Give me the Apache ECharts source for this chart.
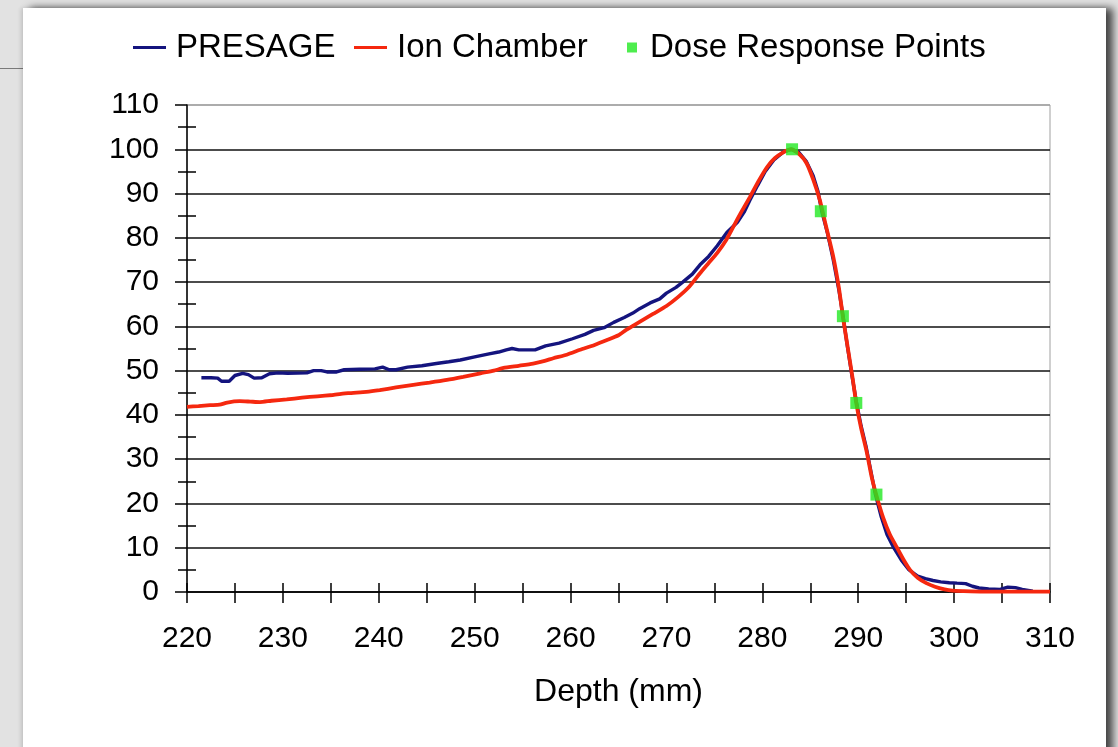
<!DOCTYPE html>
<html>
<head>
<meta charset="utf-8">
<script src="https://cdn.jsdelivr.net/npm/echarts@6/dist/echarts.min.js"></script>
<style>
  html, body { margin: 0; padding: 0; width: 1118px; height: 747px; overflow: hidden; background: #e2e2e2; }
  #bgline { position: absolute; left: 0; top: 68px; width: 23px; height: 1px; background: #7a7a7a; }
  #card { position: absolute; left: 23px; top: 8px; width: 1083px; height: 800px; background: #fff;
          box-shadow: 7px 0 8px rgba(0,0,0,0.7), -2px 0 4px rgba(0,0,0,0.12); }
  #chart { position: absolute; left: 0; top: 0; width: 1118px; height: 747px; }
</style>
</head>
<body>
<div id="bgline"></div>
<div id="card"></div>
<div id="chart"></div>
<script>
// ---- data ----
const xTicks = [220, 230, 240, 250, 260, 270, 280, 290, 300, 310];
const yTicks = [0, 10, 20, 30, 40, 50, 60, 70, 80, 90, 100, 110];

const presageDepth = [221.5,222.5,223.2,223.6,224.4,225.0,225.8,226.4,227.0,227.8,228.6,229.5,230.5,232.5,233.2,234.0,234.6,235.6,236.4,238.0,239.6,240.4,241.1,241.8,243.0,244.5,246.0,247.3,248.5,250.0,251.5,252.5,253.3,253.9,254.6,256.3,257.4,258.8,260.2,261.5,262.4,263.5,264.5,265.6,266.5,267.2,268.3,269.3,270.0,271.0,271.7,272.7,273.5,274.4,275.3,276.3,277.4,278.1,278.7,279.5,280.3,281.2,282.2,283.0,283.8,284.6,285.3,285.8,286.2,286.8,287.4,288.0,288.4,288.8,289.3,289.8,290.3,290.8,291.3,291.8,292.4,293.0,293.7,294.5,295.3,296.2,297.0,297.8,298.6,299.5,300.3,301.2,301.9,302.6,303.6,304.8,305.6,306.4,307.1,308.2];
const presageDose  = [48.4,48.4,48.3,47.6,47.6,48.9,49.4,49.1,48.3,48.4,49.3,49.5,49.4,49.5,50.0,50.0,49.7,49.7,50.2,50.3,50.4,50.8,50.2,50.2,50.8,51.1,51.6,52.0,52.4,53.1,53.8,54.2,54.7,55.0,54.7,54.7,55.6,56.2,57.2,58.2,59.1,59.7,60.9,62.0,63.0,64.0,65.3,66.2,67.5,68.8,70.0,71.8,73.9,75.8,78.2,81.2,83.5,85.8,88.5,91.8,95.0,97.6,99.4,100,99.3,97.2,94.0,90.5,86.0,81.0,75.0,68.0,62.5,56.5,49.5,43.0,37.5,33.0,27.5,22.0,17.0,13.0,10.0,7.2,5.0,3.6,3.0,2.6,2.3,2.1,2.0,1.9,1.3,0.9,0.7,0.6,1.1,1.0,0.6,0.2];

const ionDepth = [220.0,221.2,222.4,223.4,224.2,225.5,226.6,227.6,228.8,230.4,232.0,233.6,235.2,236.8,238.7,240.1,241.8,243.6,245.3,247.1,248.8,250.6,252.0,253.0,254.6,256.1,257.3,258.2,259.6,261.0,262.5,263.8,265.0,265.8,267.2,268.6,270.0,271.2,272.4,273.5,274.4,275.3,276.2,277.0,277.8,278.7,279.6,280.5,281.3,282.1,283.0,283.9,284.6,285.3,286.0,286.6,287.4,288.0,288.4,288.9,289.4,289.8,290.3,290.9,291.4,291.9,292.6,293.3,294.0,294.7,295.4,296.2,297.1,298.0,299.0,299.8,301.0,303.0,305.0,307.0,310.0];
const ionDose  = [41.8,42.0,42.2,42.3,42.8,43.1,43.0,42.9,43.2,43.5,43.9,44.2,44.5,44.9,45.2,45.6,46.2,46.8,47.3,47.9,48.6,49.4,50.0,50.6,51.1,51.6,52.2,52.8,53.6,54.7,55.8,56.9,58.0,59.2,61.0,62.8,64.6,66.6,69.0,72.0,74.3,76.6,79.4,82.6,85.8,89.2,92.8,96.0,98.0,99.2,100,98.8,96.9,93.2,88.5,83.0,75.7,68.5,62.2,55.3,48.5,42.6,37.0,31.5,26.0,21.8,16.8,13.0,10.2,7.4,5.0,3.2,2.0,1.2,0.6,0.3,0.2,0.1,0.1,0.1,0.1];

const pointDepth = [283.1, 286.1, 288.4, 289.8, 291.9];
const pointDose  = [100, 86, 62.3, 42.7, 22];

const seriesNames = ['PRESAGE', 'Ion Chamber', 'Dose Response Points'];
const xTitle = 'Depth (mm)';

// ---- build ----
const zip = (a, b) => a.map((v, i) => [v, b[i]]);
const FONT = '"Liberation Sans", Arial, sans-serif';
const NAVY = '#14147e', RED = '#f5280f', GREEN = '#22e822';

const chart = echarts.init(document.getElementById('chart'), null, { renderer: 'canvas' });

const xMin = xTicks[0], xMax = xTicks[xTicks.length - 1], xInt = xTicks[1] - xTicks[0];
const yMin = yTicks[0], yMax = yTicks[yTicks.length - 1], yInt = yTicks[1] - yTicks[0];

const ySplitColors = yTicks.map((v, i) => i === yTicks.length - 1 ? '#a0a0a0' : '#111');

const legendText = { fontSize: 33, color: '#000', fontFamily: FONT, padding: [0, 0, 0, 5] };

chart.setOption({
  backgroundColor: 'transparent',
  animation: false,
  legend: [
    { data: [{ name: seriesNames[0], icon: 'rect' }], left: 128, top: 26, itemWidth: 33, itemHeight: 3, textStyle: legendText },
    { data: [{ name: seriesNames[1], icon: 'rect' }], left: 349, top: 26, itemWidth: 33, itemHeight: 3, textStyle: legendText },
    { data: [{ name: seriesNames[2], icon: 'rect' }], left: 622, top: 26, itemWidth: 10, itemHeight: 10, textStyle: Object.assign({}, legendText, { padding: [0, 0, 0, 8] }) }
  ],
  grid: { left: 187, right: 68, top: 105, bottom: 155, show: true, borderColor: '#a0a0a0', borderWidth: 1, backgroundColor: 'transparent' },
  xAxis: [
    {
      type: 'value', min: xMin, max: xMax, interval: xInt, position: 'bottom',
      name: xTitle, nameLocation: 'middle', nameGap: 84,
      nameTextStyle: { fontSize: 32, color: '#000', fontFamily: FONT },
      axisLine: { show: true, lineStyle: { color: '#000', width: 1.5 } },
      axisTick: { show: true, length: 11, lineStyle: { color: '#000', width: 1.5 } },
      minorTick: { show: true, splitNumber: 2, length: 11, lineStyle: { color: '#000', width: 1.5 } },
      axisLabel: { fontSize: 30, color: '#000', fontFamily: FONT, margin: 32 },
      splitLine: { show: false }
    },
    {
      type: 'value', min: xMin, max: xMax, interval: xInt, position: 'bottom',
      axisLine: { show: false },
      axisTick: { show: true, inside: true, length: 9, lineStyle: { color: '#000', width: 1.5 } },
      minorTick: { show: true, splitNumber: 2, length: 9, lineStyle: { color: '#000', width: 1.5 } },
      axisLabel: { show: false },
      splitLine: { show: false }
    }
  ],
  yAxis: [
    {
      type: 'value', min: yMin, max: yMax, interval: yInt, position: 'left',
      axisLine: { show: true, lineStyle: { color: '#000', width: 1.5 } },
      axisTick: { show: true, length: 12, lineStyle: { color: '#000', width: 1.5 } },
      minorTick: { show: true, splitNumber: 2, length: 9, lineStyle: { color: '#000', width: 1.5 } },
      axisLabel: { fontSize: 30, color: '#000', fontFamily: FONT, margin: 28 },
      splitLine: { show: true, lineStyle: { color: ySplitColors, width: 1.6 } }
    },
    {
      type: 'value', min: yMin, max: yMax, interval: yInt, position: 'left',
      axisLine: { show: false },
      axisTick: { show: false, inside: true },
      minorTick: { show: true, splitNumber: 2, length: 9, lineStyle: { color: '#000', width: 1.5 } },
      axisLabel: { show: false },
      splitLine: { show: false }
    }
  ],
  series: [
    {
      name: seriesNames[0], type: 'line', data: zip(presageDepth, presageDose),
      showSymbol: false, symbol: 'none',
      lineStyle: { color: NAVY, width: 3.4 }, itemStyle: { color: NAVY }, z: 3
    },
    {
      name: seriesNames[1], type: 'line', data: zip(ionDepth, ionDose),
      showSymbol: false, symbol: 'none', smooth: 0.2,
      lineStyle: { color: RED, width: 3.8 }, itemStyle: { color: RED }, z: 4
    },
    {
      name: seriesNames[2], type: 'scatter', data: zip(pointDepth, pointDose),
      symbol: 'rect', symbolSize: 12,
      itemStyle: { color: GREEN }, z: 5
    }
  ]
});
</script>
</body>
</html>
